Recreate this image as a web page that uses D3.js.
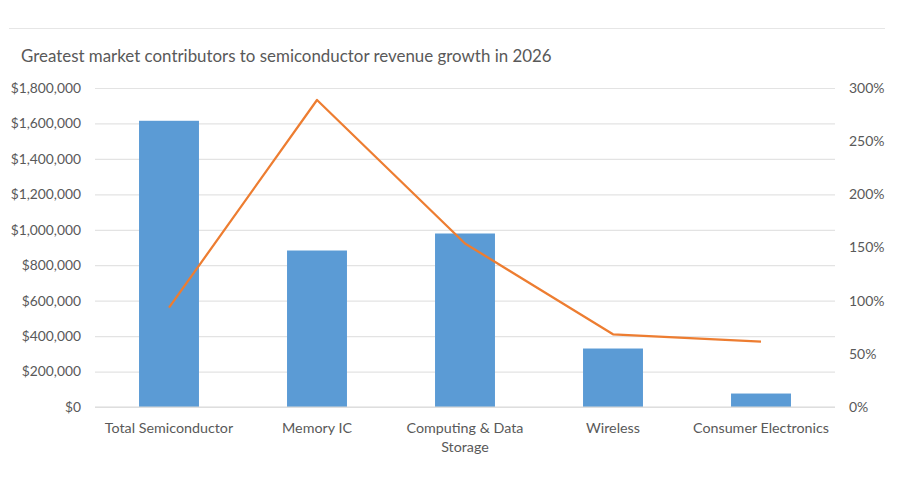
<!DOCTYPE html>
<html>
<head>
<meta charset="utf-8">
<script src="https://cdn.jsdelivr.net/npm/d3@7"></script>
<style>
  body { margin: 0; background: #fff; }
  text { font-family: Lato, "Open Sans", sans-serif; fill: #595959; }
</style>
</head>
<body>
<svg id="chart" width="900" height="500"></svg>
<script>
// data
const categories = ["Total Semiconductor", "Memory IC", "Computing & Data Storage", "Wireless", "Consumer Electronics"];
const revenue = [1615000, 883000, 979000, 330000, 76000];
const growth = [0.934, 2.887, 1.538, 0.684, 0.614];
const revenueTicks = [0, 200000, 400000, 600000, 800000, 1000000, 1200000, 1400000, 1600000, 1800000];
const growthTicks = [0, 0.5, 1, 1.5, 2, 2.5, 3];

const svg = d3.select("#chart");
const margin = { top: 88, right: 65, bottom: 93, left: 95 };
const width = 900, height = 500;

const x = d3.scaleBand()
  .domain(categories)
  .range([margin.left, width - margin.right])
  .paddingInner(0.595)
  .paddingOuter(0.2975);
const y = d3.scaleLinear().domain([0, 1800000]).range([height - margin.bottom, margin.top]);
const y2 = d3.scaleLinear().domain([0, 3]).range([height - margin.bottom, margin.top]);

// frame top line
svg.append("line")
  .attr("x1", 9).attr("x2", 885).attr("y1", 28.5).attr("y2", 28.5)
  .attr("stroke", "#e6e6e6");

svg.append("text")
  .attr("x", 21).attr("y", 62)
  .attr("font-size", "16.9px")
  .text("Greatest market contributors to semiconductor revenue growth in 2026");

// gridlines + left axis
const money = v => "$" + d3.format(",")(v);
const gLeft = svg.append("g")
  .attr("transform", `translate(${margin.left},0)`)
  .call(d3.axisLeft(y).tickValues(revenueTicks).tickFormat(money)
    .tickSize(-(width - margin.left - margin.right)).tickPadding(14));
gLeft.select(".domain").remove();
gLeft.selectAll(".tick line").attr("stroke", "#e3e3e3").attr("stroke-width", 1.2);
gLeft.selectAll(".tick text").attr("font-size", "13.8px").attr("fill", "#595959");

// right axis
const gRight = svg.append("g")
  .attr("transform", `translate(${width - margin.right},0)`)
  .call(d3.axisRight(y2).tickValues(growthTicks).tickFormat(d3.format(".0%")).tickSize(0).tickPadding(14));
gRight.select(".domain").remove();
gRight.selectAll(".tick text").attr("font-size", "14px").attr("fill", "#595959");

// bars
svg.append("g").selectAll("rect")
  .data(categories)
  .join("rect")
  .attr("x", d => x(d))
  .attr("y", (d, i) => y(revenue[i]))
  .attr("width", x.bandwidth())
  .attr("height", (d, i) => y(0) - y(revenue[i]))
  .attr("fill", "#5B9BD5");

// baseline
svg.append("line")
  .attr("x1", margin.left).attr("x2", width - margin.right)
  .attr("y1", y(0)).attr("y2", y(0))
  .attr("stroke", "#d9d9d9");

// growth line
const line = d3.line()
  .x((d, i) => x(categories[i]) + x.bandwidth() / 2)
  .y(d => y2(d));
svg.append("path")
  .datum(growth)
  .attr("d", line)
  .attr("fill", "none")
  .attr("stroke", "#ED7D31")
  .attr("stroke-width", 2.25)
  .attr("stroke-linejoin", "round");

// category labels, wrapped to band step
const maxW = x.step() - 10;
categories.forEach(c => {
  const t = svg.append("text")
    .attr("x", x(c) + x.bandwidth() / 2)
    .attr("y", y(0) + 26)
    .attr("text-anchor", "middle")
    .attr("font-size", "14.3px");
  const words = c.split(" ");
  let lineWords = [];
  let tspan = t.append("tspan").attr("x", x(c) + x.bandwidth() / 2).attr("dy", 0);
  words.forEach(w => {
    lineWords.push(w);
    tspan.text(lineWords.join(" "));
    if (tspan.node().getComputedTextLength() > maxW && lineWords.length > 1) {
      lineWords.pop();
      tspan.text(lineWords.join(" "));
      lineWords = [w];
      tspan = t.append("tspan").attr("x", x(c) + x.bandwidth() / 2).attr("dy", 19).text(w);
    }
  });
});
</script>
</body>
</html>
